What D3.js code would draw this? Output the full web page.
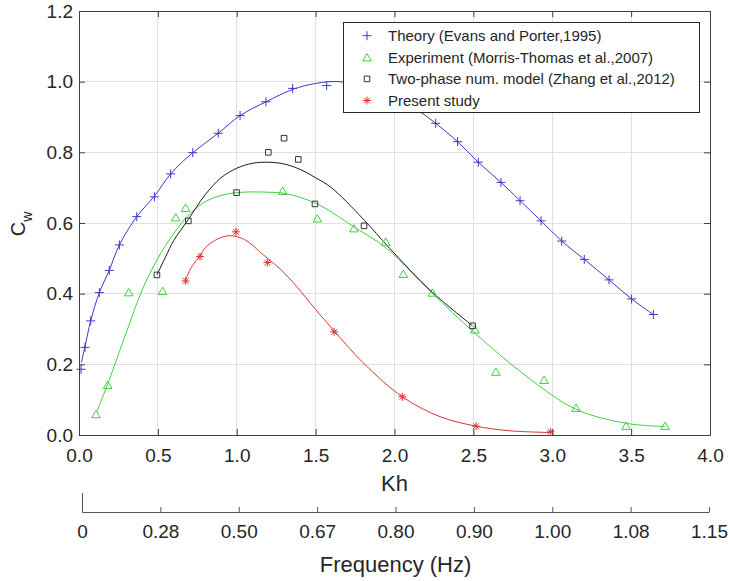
<!DOCTYPE html>
<html>
<head>
<title>Cw vs Kh</title>
<style>

body {
    margin: 0;
    background: #fff;
}

text {
    font-family: "Liberation Sans", Arial, sans-serif;
    fill: #262626;
}

.tick text {
    font-size: 19px;
}

.grid line {
    stroke: #e0e0e0;
    shape-rendering: crispEdges;
}

.curve {
    fill: none;
    stroke-width: 1;
}

.marker {
    fill: none;
    stroke-width: 1;
}

</style>
</head>
<body>
<div id="chart"></div>
<script src="https://d3js.org/d3.v7.min.js"></script>
<script>
    // tick labels
    var khTicks = [0, 0.5, 1, 1.5, 2, 2.5, 3, 3.5, 4];
    var cwTicks = [0, 0.2, 0.4, 0.6, 0.8, 1.0, 1.2];
    var freqTicks = ["0", "0.28", "0.50", "0.67", "0.80", "0.90", "1.00", "1.08", "1.15"];

    // Theory (Evans and Porter,1995)
    var theoryKh = [0.013, 0.038, 0.074, 0.129, 0.192, 0.256, 0.366, 0.478, 0.581, 0.721, 0.883, 1.021, 1.185, 1.354, 1.570,
                    2.261, 2.400, 2.531, 2.675, 2.796, 2.929, 3.060, 3.203, 3.360, 3.503, 3.641];
    var theoryCw = [0.186, 0.248, 0.323, 0.403, 0.466, 0.538, 0.618, 0.674, 0.739, 0.799, 0.854, 0.904, 0.943, 0.981, 0.989,
                    0.882, 0.830, 0.772, 0.715, 0.663, 0.606, 0.549, 0.497, 0.439, 0.385, 0.341];
    var theoryLineKh = [0.015, 0.038, 0.074, 0.129, 0.192, 0.256, 0.366, 0.478, 0.581, 0.721, 0.883, 1.021, 1.185, 1.354, 1.50, 1.65,
                        1.85, 2.05, 2.17, 2.261, 2.400, 2.531, 2.675, 2.796, 2.929, 3.060, 3.203, 3.360, 3.503, 3.641];
    var theoryLineCw = [0.205, 0.250, 0.323, 0.403, 0.466, 0.538, 0.618, 0.676, 0.739, 0.799, 0.854, 0.904, 0.943, 0.978, 0.995, 1.0,
                        0.980, 0.940, 0.912, 0.882, 0.830, 0.772, 0.715, 0.663, 0.606, 0.549, 0.497, 0.439, 0.385, 0.341];

    // Experiment (Morris-Thomas et al.,2007)
    var expKh = [0.108, 0.182, 0.315, 0.530, 0.613, 0.676, 1.291, 1.511, 1.743, 1.944, 2.056, 2.240, 2.510, 2.643, 2.948, 3.151, 3.468, 3.715];
    var expCw = [0.059, 0.142, 0.404, 0.408, 0.616, 0.643, 0.691, 0.613, 0.585, 0.547, 0.456, 0.403, 0.299, 0.179, 0.156, 0.077, 0.026, 0.026];
    var expLineKh = [0.112, 0.18, 0.30, 0.40, 0.50, 0.60, 0.70, 0.80, 0.90, 1.00, 1.10, 1.20, 1.30, 1.50, 1.74, 1.95, 2.24, 2.50, 2.84, 3.15, 3.47, 3.715];
    var expLineCw = [0.066, 0.142, 0.290, 0.410, 0.500, 0.570, 0.625, 0.660, 0.678, 0.686, 0.688, 0.687, 0.684, 0.656, 0.590, 0.528, 0.401, 0.292, 0.165, 0.073, 0.033, 0.024];

    // Two-phase num. model (Zhang et al.,2012)
    var numKh = [0.494, 0.693, 0.999, 1.200, 1.300, 1.390, 1.496, 1.807, 2.495];
    var numCw = [0.453, 0.606, 0.686, 0.800, 0.840, 0.780, 0.654, 0.592, 0.309];
    var numLineKh = [0.494, 0.55, 0.60, 0.693, 0.80, 0.90, 1.00, 1.10, 1.20, 1.30, 1.40, 1.50, 1.60, 1.80, 1.97, 2.225, 2.495];
    var numLineCw = [0.453, 0.505, 0.550, 0.610, 0.680, 0.728, 0.755, 0.769, 0.772, 0.767, 0.752, 0.728, 0.700, 0.612, 0.528, 0.410, 0.309];

    // Present study
    var presKh = [0.676, 0.767, 0.995, 1.194, 1.617, 2.050, 2.517, 2.990];
    var presCw = [0.436, 0.505, 0.575, 0.488, 0.292, 0.108, 0.025, 0.009];
    var presLineKh = [0.676, 0.72, 0.767, 0.80, 0.88, 0.957, 1.05, 1.168, 1.28, 1.38, 1.50, 1.617, 1.80, 2.05, 2.288, 2.517, 2.73, 2.99];
    var presLineCw = [0.440, 0.480, 0.507, 0.530, 0.555, 0.564, 0.553, 0.510, 0.468, 0.420, 0.355, 0.295, 0.205, 0.108, 0.052, 0.025, 0.012, 0.007];

    var legendLabels = ["Theory (Evans and Porter,1995)", "Experiment (Morris-Thomas et al.,2007)",
                        "Two-phase num. model (Zhang et al.,2012)", "Present study"];

    var dimensions = { width: 730, height: 581 };
    var plot = { left: 79, right: 710, top: 11, bottom: 435 };
    var freqAxisY = 512;

    var markerPaths = {
        plus: "M-4.5,0H4.5M0,-4.5V4.5",
        triangle: "M0,-3.8L4.3,3.6L-4.3,3.6Z",
        square: "M-2.8,-2.8H2.8V2.8H-2.8Z",
        star: "M-4,0H4M0,-4V4M-2.9,-2.9L2.9,2.9M-2.9,2.9L2.9,-2.9"
    };

    var series = [
        { kh: theoryKh, cw: theoryCw, lkh: theoryLineKh, lcw: theoryLineCw, color: "#3a3ac4", lineColor: "#3a3ac4", marker: "plus" },
        { kh: expKh, cw: expCw, lkh: expLineKh, lcw: expLineCw, color: "#3fd13f", lineColor: "#3fd13f", marker: "triangle" },
        { kh: numKh, cw: numCw, lkh: numLineKh, lcw: numLineCw, color: "#333333", lineColor: "#1a1a1a", marker: "square" },
        { kh: presKh, cw: presCw, lkh: presLineKh, lcw: presLineCw, color: "#d83434", lineColor: "#d83434", marker: "star" }
    ];

    var x = d3.scaleLinear().domain([0, 4]).range([plot.left, plot.right]);
    var y = d3.scaleLinear().domain([0, 1.2]).range([plot.bottom, plot.top]);
    var fx = d3.scalePoint().domain(freqTicks).range([82, 709]);

    var svg = d3.select("#chart")
        .append("svg")
        .attr("width", dimensions.width)
        .attr("height", dimensions.height);

    // grid
    var grid = svg.append("g").attr("class", "grid");
    grid.selectAll("line.v")
        .data(khTicks)
        .join("line")
        .attr("class", "v")
        .attr("x1", function(d) { return x(d); })
        .attr("x2", function(d) { return x(d); })
        .attr("y1", y(0))
        .attr("y2", y(1.2));
    grid.selectAll("line.h")
        .data(cwTicks)
        .join("line")
        .attr("class", "h")
        .attr("x1", x(0))
        .attr("x2", x(4))
        .attr("y1", function(d) { return y(d); })
        .attr("y2", function(d) { return y(d); });

    // curves and markers
    var line = d3.line()
        .x(function(d) { return x(d[0]); })
        .y(function(d) { return y(d[1]); })
        .curve(d3.curveCatmullRom.alpha(0.5));

    series.forEach(function(s) {
        svg.append("path")
            .attr("class", "curve")
            .attr("stroke", s.lineColor)
            .attr("d", line(d3.zip(s.lkh, s.lcw)));
    });
    series.forEach(function(s) {
        svg.append("g")
            .selectAll("path")
            .data(d3.zip(s.kh, s.cw))
            .join("path")
            .attr("class", "marker")
            .attr("stroke", s.color)
            .attr("transform", function(d) { return "translate(" + x(d[0]) + "," + y(d[1]) + ")"; })
            .attr("d", markerPaths[s.marker]);
    });

    // frame with inward ticks
    var fmt = d3.format(".1f");
    svg.append("g")
        .attr("color", "#404040")
        .attr("transform", "translate(0," + plot.bottom + ")")
        .call(d3.axisBottom(x).tickValues(khTicks).tickSize(-6).tickSizeOuter(0).tickPadding(14).tickFormat(fmt));
    svg.append("g")
        .attr("color", "#404040")
        .attr("transform", "translate(" + plot.left + ",0)")
        .call(d3.axisLeft(y).tickValues(cwTicks).tickSize(-6).tickSizeOuter(0).tickPadding(6).tickFormat(fmt));
    svg.append("g")
        .attr("color", "#404040")
        .attr("transform", "translate(0," + plot.top + ")")
        .call(d3.axisTop(x).tickValues(khTicks).tickSize(-6).tickSizeOuter(0).tickFormat(""));
    svg.append("g")
        .attr("color", "#404040")
        .attr("transform", "translate(" + plot.right + ",0)")
        .call(d3.axisRight(y).tickValues(cwTicks).tickSize(-6).tickSizeOuter(0).tickFormat(""));

    // frequency axis
    var gf = svg.append("g")
        .attr("color", "#555555")
        .attr("transform", "translate(0," + freqAxisY + ")")
        .call(d3.axisBottom(fx).tickSize(-5).tickSizeOuter(0).tickPadding(13));
    gf.append("line")
        .attr("stroke", "currentColor")
        .attr("x1", fx(freqTicks[0]) + 0.5)
        .attr("x2", fx(freqTicks[0]) + 0.5)
        .attr("y1", -19)
        .attr("y2", 0.5);

    // axis titles
    svg.append("text")
        .attr("x", x(2))
        .attr("y", 491)
        .attr("text-anchor", "middle")
        .attr("font-size", "22px")
        .text("Kh");
    svg.append("text")
        .attr("x", (fx.range()[0] + fx.range()[1]) / 2)
        .attr("y", 572)
        .attr("text-anchor", "middle")
        .attr("font-size", "22px")
        .text("Frequency (Hz)");
    var ylab = svg.append("text")
        .attr("transform", "translate(25,224) rotate(-90)")
        .attr("text-anchor", "middle")
        .attr("font-size", "20px");
    ylab.append("tspan").text("C");
    ylab.append("tspan").attr("dy", 7).attr("font-size", "14px").text("w");

    // legend
    var legend = svg.append("g").attr("transform", "translate(343,22)");
    legend.append("rect")
        .attr("x", 0.5)
        .attr("y", 0.5)
        .attr("width", 356)
        .attr("height", 90)
        .attr("fill", "#fff")
        .attr("stroke", "#262626");
    var rows = legend.selectAll("g.row")
        .data(legendLabels)
        .join("g")
        .attr("class", "row")
        .attr("transform", function(d, i) { return "translate(0," + (13.7 + i * 21.6) + ")"; });
    rows.append("path")
        .attr("class", "marker")
        .attr("transform", "translate(24,0)")
        .attr("stroke", function(d, i) { return series[i].color; })
        .attr("d", function(d, i) { return markerPaths[series[i].marker]; });
    rows.append("text")
        .attr("x", 45)
        .attr("y", 5.3)
        .attr("font-size", "15px")
        .text(function(d) { return d; });
</script>
</body>
</html>
